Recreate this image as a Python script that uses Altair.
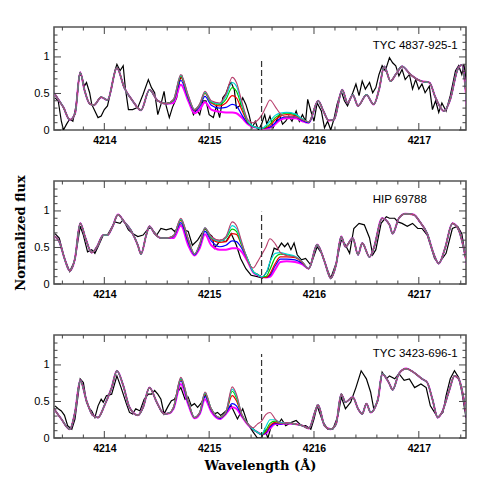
import altair as alt
import pandas as pd

X_DOMAIN = [4213.52, 4217.45]
Y_DOMAIN = [0, 1.41]
W, H = 412, 103

star_names = ["TYC 4837-925-1", "HIP 69788", "TYC 3423-696-1"]
label_pos = [4216.56, 1.15]
line_center = 4215.5
dash_top = [0.97, 0.99, 1.15]

model_names = ["maroon", "cyan", "green", "red", "blue", "magenta"]
model_colors = ["#b8406e", "#00d8d8", "#00c800", "#f00000", "#0000ff", "#ff00ff"]

x_major = [4214, 4215, 4216, 4217]
x_minor = [4213.6, 4213.8, 4214.2, 4214.4, 4214.6, 4214.8, 4215.2, 4215.4, 4215.6,
           4215.8, 4216.2, 4216.4, 4216.6, 4216.8, 4217.2, 4217.4]
y_major = [0, 0.5, 1]
y_minor = [0.1, 0.2, 0.3, 0.4, 0.6, 0.7, 0.8, 0.9, 1.1, 1.2, 1.3]

# ---------------- observed spectra ----------------
obs1_wl = [4213.53, 4213.56, 4213.59, 4213.61, 4213.64, 4213.67, 4213.70, 4213.73, 4213.76, 4213.78,
           4213.81, 4213.83, 4213.86, 4213.88, 4213.91, 4213.94, 4213.97, 4214.00, 4214.03, 4214.07,
           4214.10, 4214.12, 4214.15, 4214.18, 4214.20, 4214.23, 4214.27, 4214.32, 4214.37, 4214.42,
           4214.45, 4214.48, 4214.51, 4214.54, 4214.57, 4214.59, 4214.62, 4214.65, 4214.69, 4214.72,
           4214.74, 4214.77, 4214.80, 4214.83, 4214.85, 4214.88, 4214.91, 4214.94, 4214.97, 4215.00,
           4215.04, 4215.07, 4215.10, 4215.13, 4215.16, 4215.19, 4215.21, 4215.24, 4215.26, 4215.29,
           4215.32, 4215.35, 4215.38, 4215.41, 4215.44, 4215.47, 4215.50, 4215.53, 4215.55, 4215.58,
           4215.61, 4215.64, 4215.67, 4215.70, 4215.73, 4215.76, 4215.79, 4215.83, 4215.86, 4215.89,
           4215.92, 4215.94, 4215.97, 4216.00, 4216.03, 4216.07, 4216.10, 4216.13, 4216.16, 4216.19,
           4216.22, 4216.26, 4216.29, 4216.32, 4216.37, 4216.40, 4216.43, 4216.46, 4216.49, 4216.53,
           4216.56, 4216.59, 4216.62, 4216.65, 4216.68, 4216.72, 4216.75, 4216.78, 4216.81, 4216.84,
           4216.87, 4216.91, 4216.94, 4216.97, 4217.00, 4217.03, 4217.06, 4217.10, 4217.13, 4217.16,
           4217.19, 4217.22, 4217.26, 4217.30, 4217.35, 4217.38, 4217.41, 4217.43, 4217.45]
obs1_flux = [0.44, 0.40, 0.12, 0.00, 0.08, 0.15, 0.12, 0.33, 0.74, 0.76,
             0.60, 0.65, 0.51, 0.35, 0.26, 0.17, 0.19, 0.28, 0.33, 0.58,
             0.81, 0.90, 0.81, 0.88, 0.58, 0.28, 0.28, 0.31, 0.49, 0.69,
             0.58, 0.51, 0.21, 0.35, 0.53, 0.33, 0.17, 0.31, 0.44, 0.69,
             0.74, 0.60, 0.44, 0.31, 0.21, 0.28, 0.21, 0.40, 0.40, 0.21,
             0.17, 0.33, 0.17, 0.44, 0.50, 0.62, 0.65, 0.55, 0.30, 0.33,
             0.44, 0.35, 0.21, 0.03, 0.12, 0.00, 0.08, 0.21, 0.08, 0.19,
             0.03, 0.12, 0.21, 0.08, 0.12, 0.19, 0.12, 0.26, 0.12, 0.21,
             0.12, 0.42, 0.26, 0.12, 0.37, 0.26, 0.03, 0.12, 0.00, 0.15,
             0.35, 0.53, 0.40, 0.33, 0.51, 0.63, 0.47, 0.67, 0.56, 0.65,
             0.51, 0.58, 0.76, 0.88, 0.81, 0.99, 0.92, 0.88, 0.74, 0.83,
             0.69, 0.76, 0.56, 0.69, 0.56, 0.63, 0.51, 0.60, 0.28, 0.40,
             0.24, 0.37, 0.26, 0.47, 0.81, 0.88, 0.76, 0.90, 0.69]

obs2_wl = [4213.53, 4213.57, 4213.62, 4213.67, 4213.72, 4213.77, 4213.80, 4213.84, 4213.88, 4213.91,
           4213.94, 4213.99, 4214.03, 4214.10, 4214.15, 4214.18, 4214.23, 4214.27, 4214.32, 4214.37,
           4214.42, 4214.45, 4214.50, 4214.54, 4214.59, 4214.64, 4214.67, 4214.70, 4214.73, 4214.77,
           4214.80, 4214.84, 4214.89, 4214.96, 4215.00, 4215.03, 4215.05, 4215.11, 4215.16, 4215.21,
           4215.26, 4215.30, 4215.35, 4215.40, 4215.46, 4215.51, 4215.56, 4215.59, 4215.62, 4215.65,
           4215.69, 4215.72, 4215.75, 4215.78, 4215.81, 4215.84, 4215.88, 4215.92, 4215.97, 4216.03,
           4216.08, 4216.13, 4216.16, 4216.21, 4216.26, 4216.29, 4216.34, 4216.38, 4216.43, 4216.48,
           4216.53, 4216.56, 4216.59, 4216.64, 4216.69, 4216.72, 4216.77, 4216.80, 4216.84, 4216.89,
           4216.94, 4216.99, 4217.03, 4217.08, 4217.15, 4217.19, 4217.26, 4217.32, 4217.37, 4217.41,
           4217.45]
obs2_flux = [0.69, 0.63, 0.35, 0.17, 0.33, 0.79, 0.67, 0.44, 0.47, 0.42,
             0.51, 0.67, 0.67, 0.85, 0.83, 0.88, 0.74, 0.69, 0.65, 0.67,
             0.76, 0.76, 0.67, 0.76, 0.74, 0.76, 0.72, 0.76, 0.81, 0.74,
             0.72, 0.53, 0.60, 0.76, 0.69, 0.65, 0.49, 0.60, 0.58, 0.69,
             0.53, 0.35, 0.21, 0.12, 0.10, 0.08, 0.19, 0.35, 0.49, 0.47,
             0.56, 0.51, 0.56, 0.47, 0.56, 0.40, 0.33, 0.35, 0.26, 0.51,
             0.40, 0.19, 0.08, 0.28, 0.60, 0.56, 0.42, 0.76, 0.83, 0.81,
             0.63, 0.40, 0.47, 0.83, 0.92, 0.90, 0.90, 0.85, 0.83, 0.79,
             0.83, 0.76, 0.76, 0.67, 0.35, 0.28, 0.42, 0.76, 0.79, 0.69,
             0.33]

obs3_wl = [4213.53, 4213.56, 4213.59, 4213.62, 4213.65, 4213.69, 4213.72, 4213.77, 4213.80, 4213.83,
           4213.86, 4213.88, 4213.91, 4213.94, 4213.97, 4213.99, 4214.02, 4214.07, 4214.12, 4214.16,
           4214.21, 4214.24, 4214.27, 4214.30, 4214.34, 4214.38, 4214.42, 4214.45, 4214.48, 4214.51,
           4214.54, 4214.57, 4214.61, 4214.64, 4214.67, 4214.70, 4214.73, 4214.77, 4214.80, 4214.83,
           4214.86, 4214.89, 4214.92, 4214.97, 4215.00, 4215.05, 4215.08, 4215.11, 4215.16, 4215.21,
           4215.27, 4215.32, 4215.37, 4215.42, 4215.46, 4215.50, 4215.53, 4215.56, 4215.59, 4215.62,
           4215.65, 4215.69, 4215.73, 4215.78, 4215.83, 4215.88, 4215.92, 4215.97, 4216.00, 4216.03,
           4216.08, 4216.13, 4216.18, 4216.23, 4216.26, 4216.30, 4216.35, 4216.40, 4216.45, 4216.50,
           4216.54, 4216.57, 4216.61, 4216.65, 4216.69, 4216.72, 4216.77, 4216.81, 4216.86, 4216.91,
           4216.96, 4217.02, 4217.07, 4217.11, 4217.15, 4217.18, 4217.23, 4217.26, 4217.30, 4217.34,
           4217.38, 4217.41, 4217.45]
obs3_flux = [0.44, 0.40, 0.37, 0.31, 0.17, 0.12, 0.26, 0.81, 0.76, 0.49,
             0.40, 0.37, 0.28, 0.44, 0.53, 0.49, 0.58, 0.60, 0.85, 0.69,
             0.47, 0.35, 0.33, 0.40, 0.37, 0.53, 0.60, 0.60, 0.65, 0.60,
             0.53, 0.33, 0.44, 0.51, 0.53, 0.63, 0.69, 0.53, 0.56, 0.44,
             0.47, 0.42, 0.47, 0.60, 0.44, 0.33, 0.35, 0.31, 0.37, 0.44,
             0.26, 0.40, 0.19, 0.08, 0.00, 0.00, 0.12, 0.00, 0.15, 0.21,
             0.17, 0.26, 0.17, 0.21, 0.24, 0.17, 0.17, 0.12, 0.26, 0.44,
             0.24, 0.12, 0.12, 0.31, 0.56, 0.40, 0.49, 0.69, 0.92, 0.81,
             0.63, 0.40, 0.51, 0.90, 0.81, 0.85, 0.81, 0.88, 0.79, 0.81,
             0.69, 0.74, 0.69, 0.44, 0.35, 0.28, 0.35, 0.58, 0.81, 0.92,
             0.83, 0.63, 0.28]

# ---------------- synthetic spectra ----------------
# shared part before the varying window
mod1_pre_wl = [4213.52, 4213.57, 4213.61, 4213.67, 4213.72, 4213.77, 4213.81, 4213.86, 4213.90, 4213.97,
               4214.03, 4214.12, 4214.19, 4214.27, 4214.35, 4214.43, 4214.51, 4214.59]
mod1_pre_flux = [0.51, 0.40, 0.31, 0.14, 0.22, 0.79, 0.55, 0.36, 0.34, 0.45,
                 0.41, 0.85, 0.58, 0.40, 0.27, 0.55, 0.40, 0.36]
mod2_pre_wl = [4213.52, 4213.57, 4213.62, 4213.67, 4213.72, 4213.77, 4213.82, 4213.88, 4213.93, 4213.99,
               4214.03, 4214.08, 4214.13, 4214.19, 4214.26, 4214.32, 4214.35, 4214.40, 4214.43, 4214.48,
               4214.54, 4214.60]
mod2_pre_flux = [0.66, 0.58, 0.35, 0.18, 0.35, 0.83, 0.63, 0.43, 0.51, 0.67,
                 0.67, 0.79, 0.95, 0.85, 0.72, 0.53, 0.41, 0.67, 0.79, 0.69,
                 0.63, 0.63]
mod3_pre_wl = [4213.52, 4213.59, 4213.67, 4213.72, 4213.77, 4213.83, 4213.89, 4213.94, 4214.00, 4214.07,
               4214.12, 4214.18, 4214.24, 4214.32, 4214.37, 4214.43, 4214.50, 4214.57, 4214.62]
mod3_pre_flux = [0.40, 0.26, 0.12, 0.35, 0.79, 0.51, 0.31, 0.28, 0.44, 0.69,
                 0.92, 0.72, 0.42, 0.31, 0.42, 0.69, 0.49, 0.33, 0.34]

# window where the six models differ (columns follow model_names)
win_wl = [4214.66, 4214.73, 4214.80, 4214.86, 4214.91, 4214.96, 4215.02, 4215.10, 4215.16, 4215.22,
          4215.26, 4215.31, 4215.37, 4215.42, 4215.46, 4215.50, 4215.54, 4215.58, 4215.63, 4215.68,
          4215.74, 4215.82, 4215.89, 4215.95]
mod1_win = [[0.42, 0.42, 0.41, 0.41, 0.40, 0.37], [0.76, 0.75, 0.74, 0.72, 0.68, 0.62],
            [0.48, 0.47, 0.46, 0.45, 0.43, 0.40], [0.28, 0.28, 0.28, 0.27, 0.26, 0.23],
            [0.36, 0.35, 0.35, 0.34, 0.32, 0.28], [0.53, 0.52, 0.51, 0.50, 0.46, 0.38],
            [0.40, 0.39, 0.38, 0.37, 0.34, 0.28], [0.37, 0.36, 0.35, 0.33, 0.30, 0.25],
            [0.49, 0.46, 0.42, 0.37, 0.31, 0.24], [0.72, 0.65, 0.58, 0.47, 0.35, 0.24],
            [0.65, 0.60, 0.53, 0.44, 0.33, 0.23], [0.40, 0.37, 0.33, 0.28, 0.21, 0.17],
            [0.14, 0.12, 0.11, 0.10, 0.09, 0.08], [0.10, 0.05, 0.05, 0.05, 0.05, 0.04],
            [0.13, 0.03, 0.03, 0.03, 0.03, 0.03], [0.20, 0.02, 0.02, 0.02, 0.02, 0.02],
            [0.31, 0.06, 0.04, 0.03, 0.03, 0.02], [0.41, 0.12, 0.08, 0.06, 0.04, 0.03],
            [0.32, 0.20, 0.17, 0.14, 0.10, 0.08], [0.22, 0.23, 0.21, 0.19, 0.16, 0.14],
            [0.18, 0.24, 0.23, 0.21, 0.18, 0.16], [0.18, 0.22, 0.21, 0.20, 0.18, 0.16],
            [0.14, 0.15, 0.15, 0.14, 0.13, 0.12], [0.11, 0.11, 0.11, 0.11, 0.10, 0.10]]
mod2_win = [[0.66, 0.66, 0.66, 0.66, 0.65, 0.63], [0.90, 0.89, 0.88, 0.87, 0.84, 0.80],
            [0.62, 0.62, 0.61, 0.60, 0.57, 0.53], [0.41, 0.41, 0.41, 0.41, 0.40, 0.39],
            [0.55, 0.55, 0.54, 0.54, 0.52, 0.49], [0.77, 0.77, 0.76, 0.76, 0.72, 0.68],
            [0.65, 0.64, 0.63, 0.62, 0.59, 0.53], [0.60, 0.59, 0.59, 0.57, 0.51, 0.47],
            [0.65, 0.64, 0.63, 0.58, 0.53, 0.47], [0.85, 0.80, 0.75, 0.69, 0.59, 0.49],
            [0.80, 0.76, 0.72, 0.68, 0.58, 0.49], [0.58, 0.56, 0.54, 0.53, 0.49, 0.44],
            [0.30, 0.33, 0.33, 0.33, 0.32, 0.30], [0.22, 0.17, 0.17, 0.17, 0.17, 0.16],
            [0.30, 0.13, 0.13, 0.13, 0.13, 0.12], [0.40, 0.10, 0.10, 0.10, 0.10, 0.10],
            [0.50, 0.14, 0.10, 0.09, 0.09, 0.09], [0.62, 0.30, 0.20, 0.14, 0.12, 0.10],
            [0.55, 0.42, 0.36, 0.28, 0.25, 0.20], [0.43, 0.43, 0.41, 0.37, 0.34, 0.30],
            [0.39, 0.41, 0.40, 0.37, 0.34, 0.31], [0.37, 0.38, 0.37, 0.36, 0.33, 0.30],
            [0.30, 0.30, 0.30, 0.29, 0.28, 0.27], [0.21, 0.21, 0.21, 0.21, 0.21, 0.21]]
mod3_win = [[0.42, 0.42, 0.42, 0.42, 0.41, 0.40], [0.83, 0.82, 0.81, 0.80, 0.78, 0.74],
            [0.51, 0.51, 0.50, 0.50, 0.48, 0.46], [0.28, 0.28, 0.28, 0.28, 0.28, 0.27],
            [0.35, 0.35, 0.35, 0.35, 0.34, 0.33], [0.63, 0.62, 0.61, 0.60, 0.57, 0.53],
            [0.40, 0.40, 0.40, 0.39, 0.38, 0.36], [0.28, 0.28, 0.28, 0.28, 0.27, 0.26],
            [0.36, 0.36, 0.35, 0.35, 0.34, 0.33], [0.70, 0.67, 0.64, 0.58, 0.47, 0.42],
            [0.60, 0.58, 0.55, 0.51, 0.44, 0.40], [0.33, 0.33, 0.33, 0.32, 0.31, 0.30],
            [0.19, 0.19, 0.19, 0.19, 0.19, 0.18], [0.14, 0.12, 0.12, 0.12, 0.12, 0.12],
            [0.19, 0.08, 0.08, 0.08, 0.08, 0.08], [0.23, 0.05, 0.05, 0.05, 0.05, 0.05],
            [0.32, 0.15, 0.10, 0.08, 0.07, 0.06], [0.35, 0.25, 0.20, 0.17, 0.15, 0.13],
            [0.26, 0.25, 0.23, 0.21, 0.20, 0.19], [0.20, 0.21, 0.20, 0.20, 0.19, 0.19],
            [0.21, 0.21, 0.21, 0.21, 0.21, 0.20], [0.19, 0.19, 0.19, 0.19, 0.19, 0.19],
            [0.17, 0.17, 0.17, 0.17, 0.17, 0.17], [0.13, 0.13, 0.13, 0.13, 0.13, 0.13]]

# shared part after the window
mod1_post_wl = [4216.04, 4216.09, 4216.14, 4216.19, 4216.27, 4216.32, 4216.37, 4216.42, 4216.50, 4216.57,
                4216.62, 4216.67, 4216.73, 4216.78, 4216.84, 4216.92, 4217.02, 4217.10, 4217.16, 4217.24,
                4217.30, 4217.37, 4217.41, 4217.46]
mod1_post_flux = [0.40, 0.26, 0.13, 0.14, 0.55, 0.37, 0.48, 0.33, 0.48, 0.35,
                  0.55, 0.87, 0.67, 0.76, 0.87, 0.76, 0.67, 0.65, 0.44, 0.26,
                  0.42, 0.83, 0.89, 0.32]
mod2_post_wl = [4216.03, 4216.10, 4216.16, 4216.21, 4216.26, 4216.30, 4216.37, 4216.42, 4216.46, 4216.53,
                4216.57, 4216.65, 4216.72, 4216.75, 4216.81, 4216.87, 4216.95, 4217.01, 4217.08, 4217.14,
                4217.19, 4217.25, 4217.32, 4217.38, 4217.46]
mod2_post_flux = [0.54, 0.31, 0.08, 0.26, 0.65, 0.51, 0.63, 0.40, 0.56, 0.37,
                  0.49, 0.90, 0.81, 0.69, 0.90, 0.96, 0.95, 0.85, 0.69, 0.42,
                  0.28, 0.49, 0.83, 0.74, 0.26]
mod3_post_wl = [4216.04, 4216.10, 4216.16, 4216.21, 4216.26, 4216.30, 4216.37, 4216.42, 4216.46, 4216.50,
                4216.54, 4216.61, 4216.65, 4216.72, 4216.75, 4216.81, 4216.88, 4216.95, 4217.03, 4217.08,
                4217.13, 4217.18, 4217.22, 4217.29, 4217.34, 4217.38, 4217.46]
mod3_post_flux = [0.45, 0.17, 0.12, 0.19, 0.60, 0.49, 0.56, 0.40, 0.33, 0.47,
                  0.35, 0.53, 0.88, 0.74, 0.66, 0.88, 0.95, 0.90, 0.81, 0.76,
                  0.53, 0.28, 0.35, 0.65, 0.85, 0.81, 0.26]

obs_wl = [obs1_wl, obs2_wl, obs3_wl]
obs_flux = [obs1_flux, obs2_flux, obs3_flux]
pre_wl = [mod1_pre_wl, mod2_pre_wl, mod3_pre_wl]
pre_flux = [mod1_pre_flux, mod2_pre_flux, mod3_pre_flux]
win_rows = [mod1_win, mod2_win, mod3_win]
post_wl = [mod1_post_wl, mod2_post_wl, mod3_post_wl]
post_flux = [mod1_post_flux, mod2_post_flux, mod3_post_flux]

xs = alt.Scale(domain=X_DOMAIN, nice=False, zero=False)
ys = alt.Scale(domain=Y_DOMAIN, nice=False, zero=True)

draw_order = ["magenta", "blue", "red", "green", "cyan", "maroon"]
widths = {"maroon": 1.1, "cyan": 1.2, "green": 1.2, "red": 1.2, "blue": 1.2, "magenta": 2.0}


def panel(p):
    last = p == 2
    x_axis = alt.Axis(values=x_major, format="d", labelFontWeight="bold", labelFontSize=10.5,
                      labelPadding=5, title="Wavelength (Å)" if last else "",
                      titleFontSize=13, titlePadding=6)
    y_axis = alt.Axis(values=y_major, format="~g", labelFontSize=11, labelPadding=5,
                      title="Normalized  flux", titleFontSize=13, titlePadding=6,
                      titleOpacity=1 if p == 1 else 0)
    x_enc = alt.X("wl:Q", scale=xs, axis=x_axis)
    y_enc = alt.Y("flux:Q", scale=ys, axis=y_axis)

    layers = []
    obs_df = pd.DataFrame({"wl": obs_wl[p], "flux": obs_flux[p]})
    layers.append(alt.Chart(obs_df).mark_line(color="black", strokeWidth=1.2, clip=True)
                  .encode(x=x_enc, y=y_enc))
    for name in draw_order:
        k = model_names.index(name)
        wl = pre_wl[p] + win_wl + post_wl[p]
        fl = pre_flux[p] + [r[k] for r in win_rows[p]] + post_flux[p]
        df = pd.DataFrame({"wl": wl, "flux": fl})
        layers.append(alt.Chart(df).mark_line(color=model_colors[k], strokeWidth=widths[name],
                                              interpolate="monotone", clip=True)
                      .encode(x=x_enc, y=y_enc))

    dash_df = pd.DataFrame({"wl": [line_center], "y0": [0.0], "y1": [dash_top[p]]})
    layers.append(alt.Chart(dash_df).mark_rule(color="#333", strokeWidth=1.2, strokeDash=[6, 3])
                  .encode(x=alt.X("wl:Q", scale=xs), y=alt.Y("y0:Q", scale=ys), y2="y1:Q"))

    lab_df = pd.DataFrame({"wl": [label_pos[0]], "flux": [label_pos[1]], "t": [star_names[p]]})
    layers.append(alt.Chart(lab_df).mark_text(align="left", baseline="middle", fontSize=11.5,
                                              font="Liberation Sans", color="black")
                  .encode(x=alt.X("wl:Q", scale=xs), y=alt.Y("flux:Q", scale=ys), text="t:N"))

    tick_col = "#444"
    for vals, ln in [(x_major, 7), (x_minor, 3.5)]:
        d = pd.DataFrame({"v": vals})
        layers.append(alt.Chart(d).mark_rule(color=tick_col, strokeWidth=1)
                      .encode(x=alt.X("v:Q", scale=xs), y=alt.value(H), y2=alt.value(H - ln)))
        layers.append(alt.Chart(d).mark_rule(color=tick_col, strokeWidth=1)
                      .encode(x=alt.X("v:Q", scale=xs), y=alt.value(0), y2=alt.value(ln)))
    for vals, ln in [(y_major, 7), (y_minor, 3.5)]:
        d = pd.DataFrame({"v": vals})
        layers.append(alt.Chart(d).mark_rule(color=tick_col, strokeWidth=1)
                      .encode(y=alt.Y("v:Q", scale=ys), x=alt.value(0), x2=alt.value(ln)))
        layers.append(alt.Chart(d).mark_rule(color=tick_col, strokeWidth=1)
                      .encode(y=alt.Y("v:Q", scale=ys), x=alt.value(W), x2=alt.value(W - ln)))

    return alt.layer(*layers).properties(width=W, height=H)


chart = alt.vconcat(panel(0), panel(1), panel(2), spacing=24).properties(
    padding={"left": 5, "top": 9, "right": 5, "bottom": 5}
).configure_view(stroke="#555", strokeWidth=1.6).configure_axis(
    grid=False, domain=False, ticks=False, labelFont="Liberation Sans", labelColor="black",
    titleFont="DejaVu Serif", titleFontWeight="bold", titleColor="black"
)

chart.save("out.html", embed_options={"renderer": "svg", "actions": False})
